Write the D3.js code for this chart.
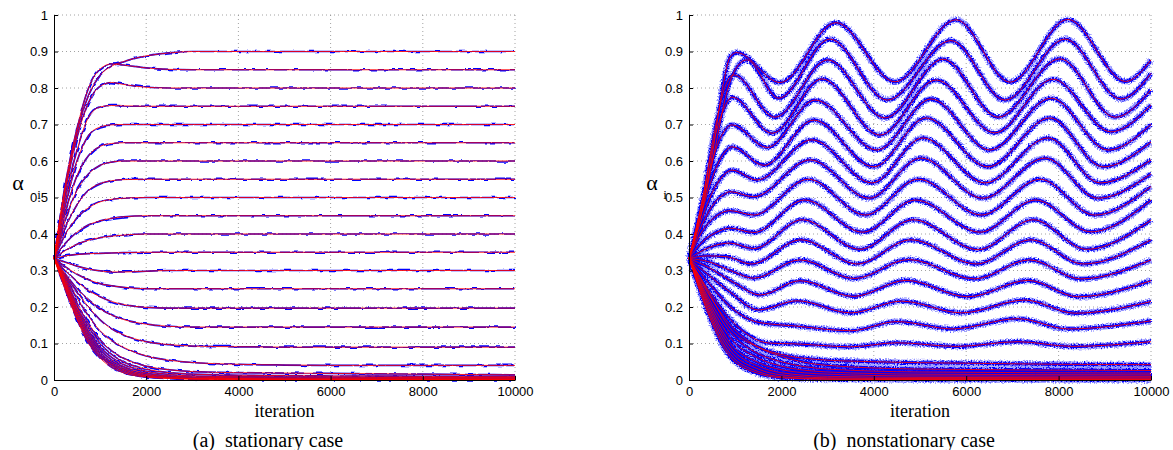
<!DOCTYPE html>
<html>
<head>
<meta charset="utf-8">
<script src="https://cdn.jsdelivr.net/npm/d3@7"></script>
<style>
  body { margin: 0; background: #fff; }
  .tick text { font-family: "Liberation Sans", Arial, sans-serif; font-size: 13px; fill: #000; }
  .serif { font-family: "Liberation Serif", "Times New Roman", serif; fill: #000; white-space: pre; }
</style>
</head>
<body>
<script>
// ---- data ----
var iterTicks = [0, 2000, 4000, 6000, 8000, 10000];
var alphaTicks = [0, 0.1, 0.2, 0.3, 0.4, 0.5, 0.6, 0.7, 0.8, 0.9, 1];

// stationary case: estimates sampled at these iterations
var stationaryIter = [0, 250, 500, 750, 1000, 1250, 1500, 2000, 2500, 3000, 4000, 5000, 6000, 7000, 8000, 9000, 10000];
var stationaryAlpha = [
  [.333, .53, .68, .78, .835, .86, .872, .888, .896, .9, .9, .9, .9, .9, .9, .9, .9],
  [.333, .54, .69, .8, .852, .866, .863, .855, .851, .85, .85, .85, .85, .85, .85, .85, .85],
  [.333, .52, .665, .76, .805, .815, .81, .802, .8, .8, .8, .8, .8, .8, .8, .8, .8],
  [.333, .5, .63, .72, .748, .752, .751, .75, .75, .75, .75, .75, .75, .75, .75, .75, .75],
  [.333, .48, .6, .67, .693, .699, .7, .7, .7, .7, .7, .7, .7, .7, .7, .7, .7],
  [.333, .46, .56, .615, .64, .648, .65, .65, .65, .65, .65, .65, .65, .65, .65, .65, .65],
  [.333, .44, .52, .565, .588, .597, .6, .6, .6, .6, .6, .6, .6, .6, .6, .6, .6],
  [.333, .42, .48, .52, .538, .546, .549, .55, .55, .55, .55, .55, .55, .55, .55, .55, .55],
  [.333, .4, .445, .472, .488, .495, .498, .5, .5, .5, .5, .5, .5, .5, .5, .5, .5],
  [.333, .375, .405, .425, .436, .443, .447, .45, .45, .45, .45, .45, .45, .45, .45, .45, .45],
  [.333, .355, .372, .383, .39, .394, .397, .4, .4, .4, .4, .4, .4, .4, .4, .4, .4],
  [.333, .34, .344, .346, .347, .348, .349, .35, .35, .35, .35, .35, .35, .35, .35, .35, .35],
  [.333, .322, .312, .304, .299, .296, .296, .298, .3, .3, .3, .3, .3, .3, .3, .3, .3],
  [.333, .31, .29, .275, .264, .258, .254, .25, .25, .25, .25, .25, .25, .25, .25, .25, .25],
  [.333, .3, .27, .245, .228, .215, .207, .199, .197, .197, .197, .197, .197, .197, .197, .197, .197],
  [.333, .29, .25, .22, .195, .178, .166, .153, .147, .145, .145, .145, .145, .145, .145, .145, .145],
  [.333, .285, .24, .2, .165, .14, .124, .105, .097, .093, .091, .09, .09, .09, .09, .09, .09],
  [.333, .28, .225, .175, .135, .108, .09, .066, .054, .048, .043, .041, .04, .04, .04, .04, .04],
  [.333, .275, .21, .155, .11, .08, .06, .038, .028, .023, .02, .019, .018, .017, .016, .015, .014],
  [.333, .27, .2, .145, .1, .07, .05, .03, .02, .016, .013, .012, .011, .011, .01, .01, .01],
  [.333, .265, .195, .135, .09, .062, .043, .024, .015, .011, .009, .008, .008, .007, .007, .007, .007],
  [.333, .262, .188, .127, .083, .055, .037, .019, .011, .008, .006, .005, .005, .005, .005, .005, .005],
  [.333, .258, .182, .12, .076, .049, .032, .015, .008, .005, .004, .003, .003, .003, .003, .003, .003],
  [.333, .255, .176, .113, .07, .044, .028, .012, .006, .004, .003, .002, .002, .002, .002, .002, .002],
  [.333, .25, .17, .107, .065, .04, .024, .01, .005, .003, .002, .001, .001, .001, .001, .001, .001],
  [.333, .245, .165, .1, .06, .035, .02, .008, .004, .002, .001, .001, .001, .001, .001, .001, .001]
];

// nonstationary case: [iteration, alpha] at the turning points of each curve
var nonstationary = [
  [[0,.333],[320,.49],[520,.63],[740,.81],[890,.885],[1030,.897],[1970,.815],[3180,.979],[4460,.817],[5780,.987],[6950,.816],[8200,.988],[9450,.818],[10000,.877]],
  [[0,.333],[330,.49],[560,.63],[800,.78],[1000,.85],[1250,.877],[1940,.772],[3050,.934],[4290,.767],[5670,.93],[6840,.767],[8140,.934],[9350,.77],[10000,.84]],
  [[0,.333],[300,.5],[550,.68],[800,.81],[970,.836],[1860,.72],[3000,.877],[4240,.718],[5500,.879],[6690,.72],[8030,.88],[9220,.72],[10000,.795]],
  [[0,.333],[300,.5],[550,.66],[780,.75],[930,.775],[1800,.676],[2880,.825],[4130,.671],[5350,.822],[6620,.677],[7880,.824],[9130,.68],[10000,.753]],
  [[0,.333],[300,.49],[550,.62],[780,.685],[930,.699],[1690,.637],[2730,.767],[4070,.63],[5240,.77],[6510,.63],[7840,.772],[9070,.63],[10000,.7]],
  [[0,.333],[300,.47],[550,.57],[780,.625],[930,.639],[1620,.588],[2700,.712],[4000,.584],[5130,.718],[6470,.584],[7810,.718],[8960,.584],[10000,.652]],
  [[0,.333],[300,.45],[550,.525],[780,.565],[930,.575],[1470,.548],[2660,.658],[3960,.54],[5060,.663],[6410,.54],[7770,.663],[8900,.54],[10000,.603]],
  [[0,.333],[300,.43],[550,.485],[750,.508],[890,.516],[1400,.502],[2620,.603],[3900,.498],[5020,.608],[6360,.498],[7710,.608],[8850,.498],[10000,.565]],
  [[0,.333],[300,.41],[600,.45],[890,.464],[1400,.452],[2580,.55],[3820,.452],[4960,.55],[6330,.452],[7600,.55],[8780,.452],[10000,.53]],
  [[0,.333],[300,.38],[600,.405],[890,.416],[1400,.404],[2500,.493],[3760,.405],[4900,.493],[6300,.405],[7500,.493],[8700,.406],[10000,.493]],
  [[0,.333],[300,.355],[600,.37],[890,.375],[1400,.36],[2450,.439],[3700,.358],[4850,.439],[6260,.357],[7450,.439],[8600,.358],[10000,.438]],
  [[0,.333],[400,.34],[800,.338],[1350,.318],[2420,.384],[3640,.318],[4800,.384],[6220,.318],[7400,.384],[8530,.318],[10000,.384]],
  [[0,.333],[400,.325],[900,.3],[1400,.279],[2400,.329],[3580,.278],[4750,.33],[6180,.277],[7370,.329],[8480,.277],[10000,.329]],
  [[0,.333],[400,.31],[1000,.265],[1540,.233],[2400,.272],[3560,.229],[4700,.273],[6040,.228],[7340,.273],[8420,.228],[10000,.272]],
  [[0,.333],[400,.29],[900,.24],[1500,.192],[2340,.217],[3500,.184],[4600,.216],[5900,.184],[7270,.219],[8350,.183],[10000,.215]],
  [[0,.333],[400,.27],[900,.2],[1500,.158],[2300,.148],[3500,.135],[4500,.16],[5700,.14],[7120,.168],[8200,.14],[10000,.162]],
  [[0,.333],[400,.25],[900,.165],[1750,.101],[2300,.099],[3500,.091],[4500,.102],[5800,.092],[7120,.105],[8300,.092],[10000,.105]],
  [[0,.333],[400,.245],[900,.14],[1500,.09],[2000,.07],[2800,.056],[4000,.05],[6000,.046],[8000,.043],[10000,.042]],
  [[0,.333],[400,.24],[900,.15],[1500,.09],[2000,.065],[3000,.04],[5000,.03],[10000,.026]],
  [[0,.333],[400,.23],[900,.13],[1500,.072],[2000,.05],[3000,.03],[5000,.022],[10000,.019]],
  [[0,.333],[400,.222],[900,.115],[1500,.06],[2000,.038],[3000,.022],[5000,.016],[10000,.014]],
  [[0,.333],[400,.215],[900,.1],[1500,.048],[2000,.028],[3000,.016],[5000,.011],[10000,.01]],
  [[0,.333],[400,.208],[900,.09],[1500,.038],[2000,.02],[3000,.01],[5000,.007],[10000,.006]],
  [[0,.333],[400,.2],[900,.08],[1500,.03],[2000,.014],[3000,.006],[5000,.004],[10000,.003]],
  [[0,.333],[400,.193],[900,.07],[1500,.023],[2000,.009],[3000,.003],[5000,.002],[10000,.002]],
  [[0,.333],[400,.186],[900,.062],[1500,.018],[2000,.006],[3000,.002],[5000,.001],[10000,.001]]
];

var W = 1173, H = 450;
var plotTop = 15, plotBottom = 380;

var svg = d3.select("body").append("svg")
    .attr("width", W)
    .attr("height", H);

var defs = svg.append("defs");
function noise(id, freq, scale) {
  var f = defs.append("filter").attr("id", id)
      .attr("filterUnits", "userSpaceOnUse")
      .attr("x", 0).attr("y", 0).attr("width", W).attr("height", H);
  f.append("feTurbulence").attr("type", "fractalNoise")
      .attr("baseFrequency", freq).attr("numOctaves", 2).attr("seed", 7).attr("result", "n");
  f.append("feDisplacementMap").attr("in", "SourceGraphic").attr("in2", "n")
      .attr("scale", scale).attr("xChannelSelector", "R").attr("yChannelSelector", "G");
}
noise("jitS", "0.12 0.12", 4);
noise("jitN", "0.7 0.7", 5);

var panels = [
  { x0: 54, x1: 515, caption: "(a)  stationary case", capX: 268, alphaX: 18, subX: 39,
    series: stationaryAlpha.map(function (vals) {
      return vals.map(function (v, i) { return [stationaryIter[i], v]; });
    }),
    filter: "url(#jitS)", halo: 0, blueW: 1.7 },
  { x0: 689, x1: 1151, caption: "(b)  nonstationary case", capX: 904, alphaX: 652, subX: 665,
    series: nonstationary, filter: "url(#jitN)", halo: 6, blueW: 3.2 }
];

panels.forEach(function (p) {
  var x = d3.scaleLinear().domain([0, 10000]).range([p.x0, p.x1]);
  var y = d3.scaleLinear().domain([0, 1]).range([plotBottom, plotTop]);
  var g = svg.append("g");

  // dotted grid
  g.selectAll(".vgrid").data(iterTicks.slice(1)).enter().append("line")
      .attr("x1", function (d) { return x(d); }).attr("x2", function (d) { return x(d); })
      .attr("y1", plotBottom).attr("y2", plotTop)
      .attr("stroke", "#8a8a8a").attr("stroke-width", 0.8).attr("stroke-dasharray", "1,3");
  g.selectAll(".hgrid").data(alphaTicks.slice(1)).enter().append("line")
      .attr("x1", p.x0).attr("x2", p.x1)
      .attr("y1", function (d) { return y(d); }).attr("y2", function (d) { return y(d); })
      .attr("stroke", "#8a8a8a").attr("stroke-width", 0.8).attr("stroke-dasharray", "1,3");

  var line = d3.line()
      .x(function (d) { return x(d[0]); })
      .y(function (d) { return y(d[1]); })
      .curve(d3.curveMonotoneX);

  if (p.halo) {
    g.append("g").attr("filter", p.filter).selectAll("path").data(p.series).enter().append("path")
        .attr("d", line).attr("fill", "none").attr("stroke", "#9a9aff").attr("stroke-width", p.halo);
  }
  g.append("g").attr("filter", p.filter).selectAll("path").data(p.series).enter().append("path")
      .attr("d", line).attr("fill", "none").attr("stroke", "#0000ff").attr("stroke-width", p.blueW);
  g.append("g").selectAll("path").data(p.series).enter().append("path")
      .attr("d", line).attr("fill", "none").attr("stroke", "#ff0000")
      .attr("stroke-width", 1).attr("stroke-opacity", 0.85);

  // axes
  var ax = g.append("g").attr("transform", "translate(0," + plotBottom + ")")
      .call(d3.axisBottom(x).tickValues(iterTicks).tickSizeInner(-4).tickSizeOuter(0).tickPadding(7)
        .tickFormat(function (d) { return String(d); }));
  var ay = g.append("g").attr("transform", "translate(" + p.x0 + ",0)")
      .call(d3.axisLeft(y).tickValues(alphaTicks).tickSizeInner(-4).tickSizeOuter(0).tickPadding(6)
        .tickFormat(function (d) { return String(d); }));
  [ax, ay].forEach(function (a) {
    a.select(".domain").attr("stroke", "#000");
    a.selectAll(".tick line").attr("stroke", "#000");
  });

  g.append("text").attr("class", "serif")
      .attr("x", (p.x0 + p.x1) / 2).attr("y", 417)
      .attr("text-anchor", "middle").style("font-size", "18px")
      .text("iteration");
  g.append("text").attr("class", "serif")
      .attr("x", p.capX).attr("y", 447)
      .attr("text-anchor", "middle").style("font-size", "20px")
      .text(p.caption);
  g.append("text").attr("class", "serif")
      .attr("x", p.alphaX).attr("y", 190)
      .attr("text-anchor", "middle").style("font-size", "22px")
      .text("α");
  g.append("text").attr("class", "serif")
      .attr("x", p.subX).attr("y", 199)
      .attr("text-anchor", "middle").style("font-size", "13px")
      .text("i");
});
</script>
</body>
</html>
